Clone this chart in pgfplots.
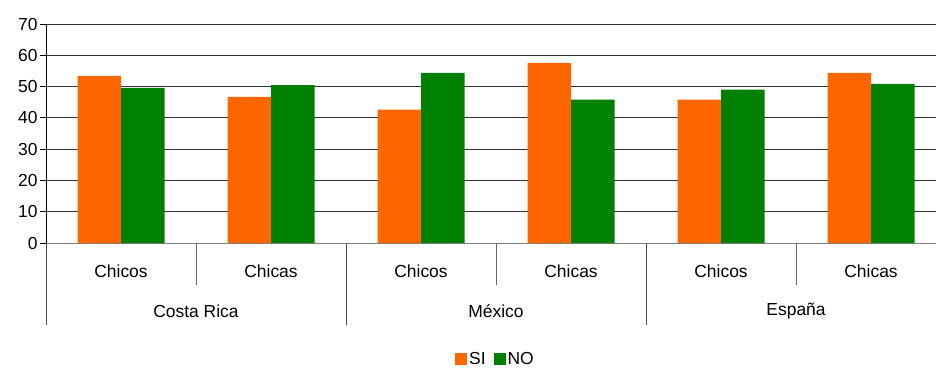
\documentclass[border=0pt]{standalone}
\usepackage{fontspec}
\setmainfont{Liberation Sans}
\usepackage{pgfplots}
\pgfplotsset{compat=1.18}
\definecolor{siorange}{HTML}{FF6600}
\definecolor{nogreen}{HTML}{008000}
\newcommand\lf{\fontsize{17.5}{20}\selectfont}
\begin{document}
\begin{tikzpicture}
\begin{axis}[
  at={(0,0)}, anchor=south west,
  scale only axis, width=890bp, height=219bp,
  xmin=-0.5, xmax=5.433, ymin=0, ymax=70,
  ytick={0,10,...,70}, xtick=\empty,
  axis lines=left, axis line style={-},
  y axis line style={black, line width=0.8bp},
  x axis line style={black!50, line width=1bp},
  ymajorgrids, grid style={black!80, line width=0.8bp},
  tick align=outside, major tick length=6bp,
  tick style={black, line width=0.8bp},
  /pgf/number format/assume math mode=true,
  tick label style={font=\lf},
  yticklabel style={xshift=1bp},
  ybar=0pt, bar width=43.5bp,
  clip=false,
  legend style={at={(0.505,-116bp)}, anchor=center, draw=none, fill=none,
    legend columns=2, font=\lf, inner sep=0pt,
    /tikz/every even column/.append style={column sep=6bp}},
  legend image code/.code={\fill[#1] (0bp,-6bp) rectangle (12bp,6bp);},
]
\addplot[fill=siorange, draw=none] coordinates {(0,53.4) (1,46.7) (2,42.6) (3,57.6) (4,45.8) (5,54.4)};
\addplot[fill=nogreen, draw=none] coordinates {(0,49.6) (1,50.5) (2,54.4) (3,45.8) (4,49.0) (5,50.9)};
\legend{SI,NO}
% separators
\draw[black!60, line width=0.8bp] (axis cs:0.5,0) -- ([yshift=-42bp]axis cs:0.5,0);
\draw[black!60, line width=0.8bp] (axis cs:2.5,0) -- ([yshift=-42bp]axis cs:2.5,0);
\draw[black!60, line width=0.8bp] (axis cs:4.5,0) -- ([yshift=-42bp]axis cs:4.5,0);
\draw[black!70, line width=0.8bp] (axis cs:-0.5,0) -- ([yshift=-82bp]axis cs:-0.5,0);
\draw[black!70, line width=0.8bp] (axis cs:1.5,0) -- ([yshift=-82bp]axis cs:1.5,0);
\draw[black!70, line width=0.8bp] (axis cs:3.5,0) -- ([yshift=-82bp]axis cs:3.5,0);
% labels
\node[font=\lf] at ([yshift=-28bp]axis cs:0,0) {Chicos};
\node[font=\lf] at ([yshift=-28bp]axis cs:1,0) {Chicas};
\node[font=\lf] at ([yshift=-28bp]axis cs:2,0) {Chicos};
\node[font=\lf] at ([yshift=-28bp]axis cs:3,0) {Chicas};
\node[font=\lf] at ([yshift=-28bp]axis cs:4,0) {Chicos};
\node[font=\lf] at ([yshift=-28bp]axis cs:5,0) {Chicas};
\node[font=\lf] at ([yshift=-68bp]axis cs:0.5,0) {Costa Rica};
\node[font=\lf] at ([yshift=-68bp]axis cs:2.5,0) {México};
\node[font=\lf] at ([yshift=-68bp]axis cs:4.5,0) {España};
\end{axis}
\pgfresetboundingbox
\path[use as bounding box] (-46bp,-126bp) rectangle (890bp,243bp);
\end{tikzpicture}
\end{document}
